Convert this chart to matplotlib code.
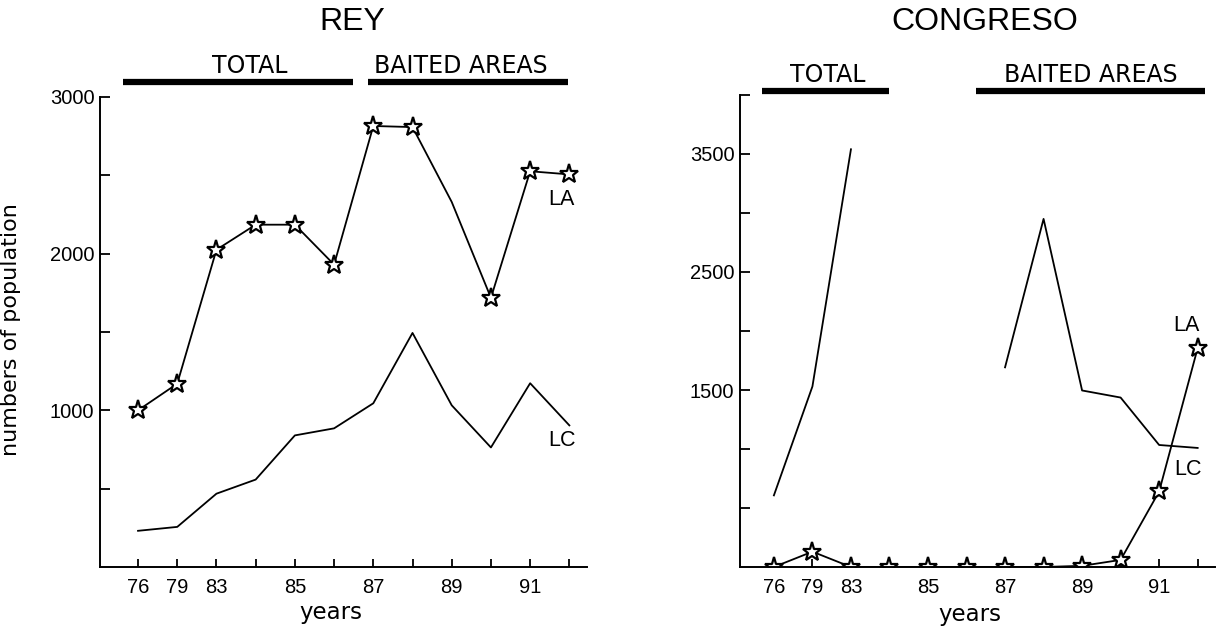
#!/usr/bin/env python3
"""Rey / Congreso population counts (LA and LC) by year, two panels."""

import numpy as np
import matplotlib
matplotlib.use("Agg")
import matplotlib.pyplot as plt
from matplotlib import font_manager
from matplotlib.lines import Line2D

# ---------------------------------------------------------------------------
# Data
# ---------------------------------------------------------------------------

year_labels = ["76", "79", "83", "", "85", "", "87", "", "89", "", "91", ""]
nan = np.nan

rey_la = [1000, 1170, 2025, 2185, 2185, 1930, 2815, 2808, 2330, 1718, 2526, 2506]
rey_la_marked = [0, 1, 2, 3, 4, 5, 6, 7, 9, 10, 11]
rey_lc = [231, 256, 468, 558, 840, 885, 1045, 1494, 1032, 763, 1173, 904]

con_la = [0, 130, 0, 0, 0, 0, 0, 0, 10, 60, 640, 1855]
con_lc = [607, 1530, 3540, nan, nan, nan, 1692, 2950, 1496, 1436, 1034, 1009]

rey_yticks = [500, 1000, 1500, 2000, 2500, 3000]
rey_yticklabels = ["", "1000", "", "2000", "", "3000"]
con_yticks = [500, 1000, 1500, 2000, 2500, 3000, 3500, 4000]
con_yticklabels = ["", "", "1500", "", "2500", "", "3500", ""]

# ---------------------------------------------------------------------------
# Fonts
# ---------------------------------------------------------------------------

names = {f.name for f in font_manager.fontManager.ttflist}
NARROW = "Liberation Sans Narrow" if "Liberation Sans Narrow" in names else "DejaVu Sans"
plt.rcParams["font.family"] = ["Liberation Sans", "DejaVu Sans"]

W, H = 1226, 627


def fx(px):
    return px / W


def fy(py):
    return 1 - py / H


def style_axes(ax, yticks, ylabels):
    x = np.arange(len(year_labels))
    ax.set_xticks(x)
    ax.set_xticklabels(year_labels, fontsize=14.5)
    ax.set_yticks(yticks)
    ax.set_yticklabels(ylabels, fontsize=14.5)
    ax.spines["top"].set_visible(False)
    ax.spines["right"].set_visible(False)
    for s in ("left", "bottom"):
        ax.spines[s].set_linewidth(1.4)
    ax.tick_params(axis="x", direction="in", length=6, width=1.3, pad=8)
    ax.tick_params(axis="y", direction="in", length=7, width=1.3, pad=4)


fig = plt.figure(figsize=(W / 100, H / 100), dpi=100)

line_kw = dict(color="black", linewidth=1.3)
star_kw = dict(marker="*", markersize=14, markerfacecolor="white",
               markeredgecolor="black", markeredgewidth=1.6)

# ---------------------------------------------------------------------------
# REY
# ---------------------------------------------------------------------------

ax1 = fig.add_axes([fx(100), fy(567), fx(487), 470 / H])
x = np.arange(len(year_labels))
ax1.plot(x, rey_la, markevery=rey_la_marked, **line_kw, **star_kw)
ax1.plot(x, rey_lc, **line_kw)
ax1.set_xlim(-0.97, 11.45)
ax1.set_ylim(0, 3000)
style_axes(ax1, rey_yticks, rey_yticklabels)
ax1.text(10.8, 2346, "LA", fontsize=15.5, ha="center", va="center")
ax1.text(10.8, 808, "LC", fontsize=15.5, ha="center", va="center")
ax1.set_ylabel("numbers of population", fontsize=16, family=NARROW)
ax1.yaxis.set_label_coords((21 - 100) / 487, (567 - 330) / 470)

# ---------------------------------------------------------------------------
# CONGRESO
# ---------------------------------------------------------------------------

ax2 = fig.add_axes([fx(740), fy(567), fx(475), 472 / H])
ax2.plot(x, con_la, **line_kw, **star_kw)
ax2.plot(x, con_lc, **line_kw)
ax2.set_xlim(-0.88, 11.45)
ax2.set_ylim(0, 4000)
style_axes(ax2, con_yticks, con_yticklabels)
ax2.text(10.7, 2043, "LA", fontsize=15.5, ha="center", va="center")
ax2.text(10.75, 829, "LC", fontsize=15.5, ha="center", va="center")

# ---------------------------------------------------------------------------
# Titles, period bars, axis labels
# ---------------------------------------------------------------------------

fig.text(fx(352), fy(22), "REY", fontsize=23, ha="center", va="center")
fig.text(fx(985), fy(22), "CONGRESO", fontsize=23, ha="center", va="center")

periods = [
    (123, 353, 82, 250, "TOTAL"),
    (368, 568, 82, 461, "BAITED AREAS"),
    (762, 889, 91, 828, "TOTAL"),
    (976, 1205, 91, 1091, "BAITED AREAS"),
]
for x0, x1, yb, xt, label in periods:
    fig.add_artist(Line2D([fx(x0), fx(x1)], [fy(yb), fy(yb)], color="black",
                          linewidth=4.5, solid_capstyle="butt"))
    fig.text(fx(xt), fy(yb - 16), label, fontsize=17, family=NARROW,
             ha="center", va="center")

fig.text(fx(331), fy(613), "years", fontsize=16.5, family=NARROW, ha="center", va="center")
fig.text(fx(970), fy(615), "years", fontsize=16.5, family=NARROW, ha="center", va="center")

fig.savefig("out.png", dpi=100)
